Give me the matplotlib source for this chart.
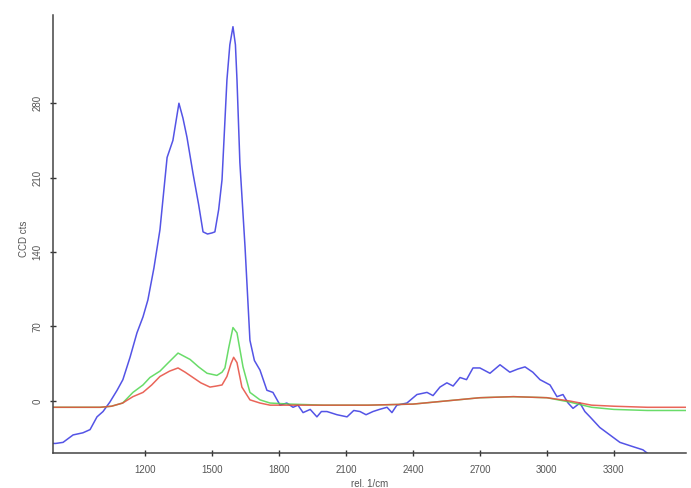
import numpy as np
import matplotlib.pyplot as plt

# spectrum values (x in rel. 1/cm, y in CCD cts)
blue_x = [790, 800, 833, 878, 922, 954, 985, 1012, 1043, 1075, 1101, 1133, 1164, 1191,
          1213, 1240, 1267, 1299, 1325, 1352, 1370, 1388, 1415, 1440, 1460, 1480, 1500,
          1513, 1530, 1545, 1567, 1580, 1594, 1605, 1612, 1625, 1648, 1670, 1690, 1715,
          1746, 1773, 1805, 1835, 1863, 1885, 1908, 1940, 1970, 1990, 2015, 2060, 2105,
          2135, 2163, 2190, 2221, 2250, 2284, 2306, 2328, 2373, 2418, 2463, 2490, 2521,
          2552, 2580, 2611, 2640, 2669, 2700, 2745, 2790, 2834, 2870, 2902, 2937, 2969,
          3014, 3045, 3072, 3095, 3117, 3148, 3170, 3193, 3237, 3282, 3327, 3385, 3430,
          3461, 3490, 3520, 3530]
blue_y = [-40, -40, -39, -32, -30, -27, -15, -10, -1, 10, 20, 41, 64, 79,
          95, 125, 161, 229, 245, 280, 266, 248, 214, 185, 159, 157, 158,
          159, 180, 208, 302, 335, 352, 335, 302, 224, 145, 57, 38, 29,
          10, 8, -4, -2, -6, -4, -11, -8, -15, -10, -10, -13, -15,
          -9, -10, -13, -10, -8, -6, -11, -4, -2, 6, 8, 5, 13,
          17, 14, 22, 20, 31, 31, 26, 34, 27, 30, 32, 27, 20,
          15, 4, 6, -2, -7, -2, -10, -15, -25, -32, -39, -43, -46,
          -51, -50, -51, -51]

green_x = [790, 900, 1000, 1050, 1100, 1146, 1191, 1222, 1267, 1300, 1348, 1375, 1402,
           1440, 1478, 1522, 1545, 1558, 1575, 1594, 1612, 1639, 1670, 1715, 1760, 1850,
           2000, 2200, 2400, 2550, 2700, 2850, 3000, 3100, 3200, 3300, 3450, 3620]
green_y = [-6, -6, -6, -5, -2, 8, 15, 22, 28, 35, 45, 42, 39,
           32, 26, 24, 27, 31, 50, 69, 64, 32, 8, 1, -2, -3,
           -4, -4, -3, 0, 3, 4, 3, -1, -6, -8, -9, -9]

red_x = [790, 900, 1000, 1050, 1100, 1146, 1191, 1230, 1267, 1310, 1348, 1380, 1415,
         1450, 1491, 1520, 1545, 1567, 1585, 1597, 1612, 1634, 1670, 1715, 1760, 1850,
         2000, 2200, 2400, 2550, 2700, 2850, 3000, 3100, 3200, 3300, 3450, 3620]
red_y = [-6, -6, -6, -5, -2, 4, 8, 15, 23, 28, 31, 27, 22,
         17, 13, 14, 15, 23, 35, 41, 36, 13, 1, -2, -4, -4,
         -4, -4, -3, 0, 3, 4, 3, 0, -4, -5, -6, -6]

x_ticks = [1200, 1500, 1800, 2100, 2400, 2700, 3000, 3300]
y_ticks = [0, 70, 140, 210, 280]

plt.rcParams['font.family'] = ['Liberation Sans', 'DejaVu Sans']

fig = plt.figure(figsize=(6.91, 4.88), dpi=100)
ax = fig.add_axes([53 / 691, 35 / 488, 633 / 691, 438 / 488])

ax.plot(blue_x, blue_y, color='#5454e6', lw=1.1)
ax.plot(green_x, green_y, color='#4fd64f', lw=1.1, alpha=0.85)
ax.plot(red_x, red_y, color='#e64a3c', lw=1.1, alpha=0.85)

ax.set_xlim(788, 3623)
ax.set_ylim(-49, 363)
ax.set_xticks(x_ticks)
ax.set_yticks(y_ticks)
ax.set_xticklabels([str(v) for v in x_ticks])
ax.set_yticklabels([str(v) for v in y_ticks], rotation=90, va='center')

for s in ['top', 'right']:
    ax.spines[s].set_visible(False)
for s in ['left', 'bottom']:
    ax.spines[s].set_color('#444444')
    ax.spines[s].set_linewidth(1.1)

ax.tick_params(direction='inout', length=5, width=1.0, color='#333333',
               labelsize=7, labelcolor='#555555')
ax.tick_params(axis='x', pad=6)
ax.tick_params(axis='y', pad=5)

ax.set_xlabel('rel. 1/cm', fontsize=7, color='#555555')
ax.xaxis.set_label_coords(0.5, -0.06)
ax.set_ylabel('CCD cts', fontsize=7, color='#555555')
ax.yaxis.set_label_coords(-0.038, 0.49)

fig.savefig('out.png', dpi=100)
